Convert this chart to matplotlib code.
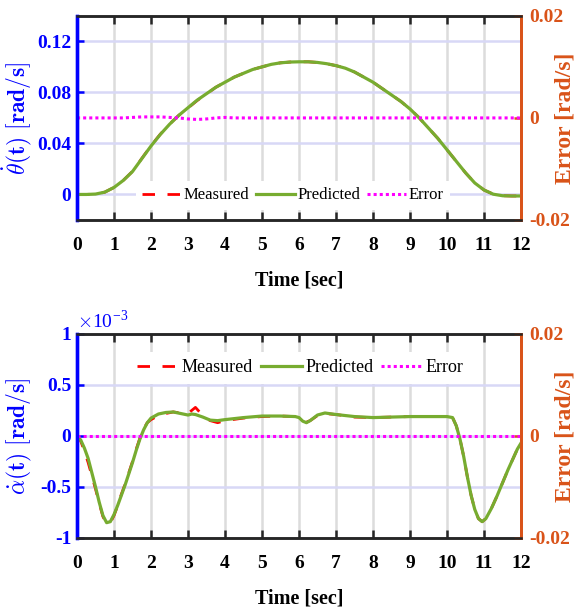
import numpy as np
import matplotlib
matplotlib.use('Agg')
import matplotlib.pyplot as plt

# top panel: theta_dot [rad/s]
t_top = [0, 0.25, 0.5, 0.75, 1.0, 1.25, 1.5, 1.75, 2.0, 2.25, 2.5, 2.75, 3.0, 3.25, 3.5, 3.75,
         4.0, 4.25, 4.5, 4.75, 5.0, 5.25, 5.5, 5.75, 6.0, 6.25, 6.5, 6.75, 7.0, 7.25, 7.5, 7.75,
         8.0, 8.25, 8.5, 8.75, 9.0, 9.25, 9.5, 9.75, 10.0, 10.25, 10.5, 10.75, 11.0, 11.25, 11.5, 11.75, 12.0]
theta_pred = [0, 0, 0.0003, 0.0018, 0.0055, 0.011, 0.018, 0.028, 0.038, 0.047, 0.055, 0.062, 0.068, 0.074,
              0.079, 0.084, 0.088, 0.092, 0.095, 0.098, 0.100, 0.102, 0.1032, 0.1038, 0.104, 0.104, 0.1035,
              0.1025, 0.101, 0.099, 0.096, 0.092, 0.088, 0.083, 0.078, 0.073, 0.067, 0.060, 0.052, 0.044,
              0.035, 0.026, 0.017, 0.009, 0.0035, 0.0002, -0.001, -0.0012, -0.0012]
theta_meas = [0, 0, 0.0003, 0.0018, 0.0055, 0.011, 0.0181, 0.0282, 0.0382, 0.0472, 0.0551, 0.062, 0.0678,
              0.0737, 0.0788, 0.084, 0.0881, 0.092, 0.095, 0.098, 0.100, 0.102, 0.1032, 0.1038, 0.104, 0.104,
              0.1035, 0.1025, 0.101, 0.099, 0.096, 0.092, 0.088, 0.083, 0.078, 0.073, 0.067, 0.060, 0.052,
              0.044, 0.035, 0.026, 0.017, 0.009, 0.0035, 0.0002, -0.001, -0.0012, -0.0012]
theta_err = [0, 0, 0, 0, 0, 0, 0.0001, 0.0002, 0.0002, 0.0002, 0.0001, 0, -0.0002, -0.0003, -0.0002, 0,
             0.0001, 0, 0, 0, 0, 0, 0, 0, 0, 0, 0, 0, 0, 0, 0, 0, 0, 0, 0, 0, 0, 0, 0, 0, 0, 0, 0, 0, 0,
             0, 0, 0, 0]

# bottom panel: alpha_dot [rad/s] x 1e-3
t_bot = [0, 0.1, 0.2, 0.3, 0.4, 0.5, 0.6, 0.7, 0.8, 0.9, 1.0, 1.1, 1.2, 1.3, 1.4, 1.5, 1.6, 1.7, 1.8,
         1.9, 2.0, 2.2, 2.4, 2.6, 2.8, 3.0, 3.1, 3.2, 3.4, 3.6, 3.8, 4.0, 4.5, 5.0, 5.5, 5.9, 6.0, 6.1,
         6.2, 6.3, 6.5, 6.7, 7.0, 7.5, 8.0, 8.5, 9.0, 9.5, 10.0, 10.15, 10.25, 10.35, 10.45, 10.55,
         10.65, 10.75, 10.85, 10.95, 11.05, 11.2, 11.35, 11.5, 11.65, 11.8, 11.9, 12.0]
alpha_pred = [0, -0.04, -0.12, -0.22, -0.36, -0.50, -0.65, -0.78, -0.85, -0.84, -0.77, -0.68, -0.58,
              -0.48, -0.37, -0.26, -0.14, -0.03, 0.06, 0.13, 0.175, 0.215, 0.23, 0.235, 0.22, 0.205,
              0.215, 0.21, 0.185, 0.155, 0.15, 0.16, 0.18, 0.195, 0.195, 0.19, 0.18, 0.145, 0.13, 0.15,
              0.205, 0.225, 0.21, 0.19, 0.18, 0.185, 0.19, 0.19, 0.19, 0.18, 0.10, -0.03, -0.20, -0.40,
              -0.58, -0.72, -0.81, -0.84, -0.81, -0.71, -0.59, -0.46, -0.33, -0.21, -0.13, -0.07]
alpha_meas = [0, -0.05, -0.15, -0.26, -0.39, -0.52, -0.66, -0.79, -0.86, -0.85, -0.78, -0.68, -0.57,
              -0.47, -0.36, -0.25, -0.13, -0.02, 0.07, 0.13, 0.16, 0.20, 0.22, 0.235, 0.225, 0.22,
              0.25, 0.28, 0.2, 0.15, 0.13, 0.15, 0.175, 0.19, 0.195, 0.19, 0.18, 0.15, 0.135, 0.15,
              0.2, 0.22, 0.21, 0.185, 0.18, 0.185, 0.19, 0.19, 0.19, 0.18, 0.10, -0.03, -0.20, -0.40,
              -0.58, -0.72, -0.81, -0.84, -0.81, -0.71, -0.59, -0.46, -0.33, -0.21, -0.13, -0.07]
alpha_err = [0] * len(t_bot)

x_ticks = list(range(13))
top_ticks = [0, 0.04, 0.08, 0.12]
top_ticklabels = ['0', '0.04', '0.08', '0.12']
bot_ticks = [-1, -0.5, 0, 0.5, 1]
bot_ticklabels = ['-1', '-0.5', '0', '0.5', '1']
err_ticks = [-0.02, 0, 0.02]
err_ticklabels = ['-0.02', '0', '0.02']

BLUE = '#0000FF'
ORANGE = '#D95319'
GREEN = '#77AC30'
RED = '#FF0000'
MAGENTA = '#FF00FF'

plt.rcParams['font.family'] = ['Liberation Serif', 'DejaVu Serif']
plt.rcParams['mathtext.fontset'] = 'cm'


def panel(fig, rect, t, pred, meas, err, t_err, yticks, yticklabels, ylim, ylabel, legend_xy, legend_fs):
    ax = fig.add_axes(rect)
    ax2 = ax.twinx()

    ax.plot(t, meas, color=RED, lw=2.0, dashes=(4.5, 4.5), label='Measured', zorder=3)
    ax.plot(t, pred, color=GREEN, lw=2.3, label='Predicted', zorder=4)
    ax2.plot(t_err, err, color=MAGENTA, lw=2.2, linestyle=(0, (1, 1)), label='Error')

    ax.set_xlim(0, 12)
    ax.set_ylim(*ylim)
    ax2.set_ylim(-0.02, 0.02)
    ax.set_xticks(x_ticks)
    ax.set_yticks(yticks)
    ax.set_yticklabels(yticklabels)
    ax2.set_yticks(err_ticks)
    ax2.set_yticklabels(err_ticklabels)

    # grid: grey verticals, lavender horizontals
    for xv in x_ticks[1:-1]:
        ax.axvline(xv, color='#DCDCDC', lw=1.8, zorder=0)
    for yv in yticks:
        ax.axhline(yv, color='#D8D8F6', lw=1.8, zorder=0)

    for a in (ax, ax2):
        for s in ('top', 'bottom'):
            a.spines[s].set_color('#262626')
            a.spines[s].set_linewidth(1.8)
        a.spines['left'].set_color(BLUE)
        a.spines['left'].set_linewidth(2.4)
        a.spines['right'].set_color(ORANGE)
        a.spines['right'].set_linewidth(2.0)

    ax.tick_params(axis='x', which='both', direction='in', top=True, length=6, width=1.8,
                   color='#262626', labelsize=14, pad=12)
    ax.tick_params(axis='y', direction='in', length=5, width=1.8, color=BLUE, labelcolor=BLUE,
                   labelsize=14, pad=4)
    ax2.tick_params(axis='y', direction='in', length=5, width=1.8, color=ORANGE, labelcolor=ORANGE,
                    labelsize=14, pad=6)
    for lab in ax.get_xticklabels() + ax.get_yticklabels() + ax2.get_yticklabels():
        lab.set_fontweight('bold')

    ax.set_xlabel('Time [sec]', fontsize=14.5, fontweight='bold', labelpad=12)
    ax.set_ylabel(ylabel, fontsize=17, color=BLUE)
    ax.yaxis.set_label_coords(-0.098, 0.5)
    ax2.set_ylabel('Error [rad/s]', fontsize=17, fontweight='bold', color=ORANGE)
    ax2.yaxis.set_label_coords(1.076, 0.5)

    h1, l1 = ax.get_legend_handles_labels()
    h2, l2 = ax2.get_legend_handles_labels()
    ax2.legend(h1 + h2, l1 + l2, loc='center', bbox_to_anchor=legend_xy, ncol=3,
               frameon=True, fancybox=False, edgecolor='none', facecolor='white', framealpha=1,
               fontsize=legend_fs, handlelength=2.3, handletextpad=0.15, columnspacing=0.45,
               borderpad=0.4, borderaxespad=0)
    return ax, ax2


fig = plt.figure(figsize=(5.8, 6.11), dpi=100)

panel(fig, [0.1328, 0.640, 0.7655, 0.334], t_top, theta_pred, theta_meas, theta_err, t_top,
      top_ticks, top_ticklabels, (-0.02, 0.14),
      r'$\dot{\theta}\mathbf{(t)\ [rad/s]}$', (0.486, 0.12), 12)

ax_b, ax_b2 = panel(fig, [0.1328, 0.1195, 0.7655, 0.334], t_bot, alpha_pred, alpha_meas, alpha_err, t_bot,
                    bot_ticks, bot_ticklabels, (-1, 1),
                    r'$\dot{\alpha}\mathbf{(t)\ [rad/s]}$', (0.503, 0.833), 13)
ax_b.text(0.0, 1.01, r'$\times$10$^{\mathregular{-3}}$', transform=ax_b.transAxes, color=BLUE,
          fontsize=14, ha='left', va='bottom')

fig.savefig('out.png', dpi=100)
